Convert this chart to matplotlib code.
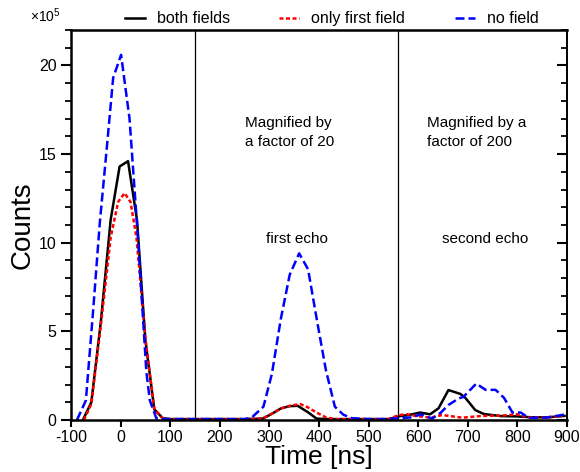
import matplotlib
matplotlib.use("Agg")
import matplotlib.pyplot as plt
from matplotlib.ticker import MultipleLocator

plt.rcParams['font.family'] = ['Liberation Sans', 'DejaVu Sans']
plt.rcParams['mathtext.fontset'] = 'custom'
plt.rcParams['mathtext.rm'] = 'Liberation Sans'
plt.rcParams['axes.unicode_minus'] = False

# counts in units of 1e5 (echo regions already magnified x20 / x200)
both_t = [-76, -59, -40, -20, -2, 15, 33, 50, 68, 85, 100, 150, 200, 250, 287, 305, 323, 341,
          357, 377, 395, 420, 480, 540, 564, 581, 604, 624, 641, 661, 685, 695, 715, 732, 766,
          800, 830, 860, 895]
both_y = [0, 1.0, 5.5, 11.3, 14.3, 14.6, 11.3, 4.5, 0.6, 0.1, 0.05, 0.05, 0.05, 0.05, 0.08, 0.35,
          0.65, 0.78, 0.8, 0.45, 0.08, 0.05, 0.05, 0.05, 0.22, 0.28, 0.42, 0.32, 0.66, 1.69, 1.47,
          1.25, 0.56, 0.34, 0.22, 0.2, 0.15, 0.15, 0.23]

first_t = [-74, -59, -40, -20, -5, 8, 20, 32, 50, 68, 85, 100, 150, 200, 250, 285, 305, 323, 341,
           362, 377, 395, 414, 432, 480, 540, 561, 578, 595, 625, 648, 670, 689, 729, 770, 800,
           820, 857, 891]
first_y = [0, 0.9, 5.3, 10.3, 12.3, 12.8, 12.3, 10.3, 4.6, 0.6, 0.1, 0.05, 0.05, 0.05, 0.05, 0.08,
           0.35, 0.65, 0.8, 0.9, 0.72, 0.42, 0.15, 0.05, 0.05, 0.05, 0.28, 0.32, 0.23, 0.13, 0.28,
           0.2, 0.13, 0.23, 0.25, 0.32, 0.15, 0.13, 0.23]

none_t = [-88, -70, -55, -42, -28, -15, 1, 18, 35, 52, 59, 72, 85, 150, 200, 250, 264, 288, 305,
          323, 341, 360, 378, 396, 414, 432, 449, 466, 500, 540, 561, 588, 605, 628, 645, 661,
          682, 691, 717, 736, 756, 773, 790, 807, 822, 857, 894]
none_y = [0, 1.1, 6.3, 11.1, 15.3, 19.3, 20.6, 17.0, 10.3, 2.7, 1.1, 0.1, 0.05, 0.05, 0.05, 0.05,
          0.13, 0.75, 2.6, 5.7, 8.2, 9.4, 8.5, 5.6, 2.8, 0.75, 0.3, 0.1, 0.05, 0.05, 0.1, 0.15,
          0.32, 0.08, 0.4, 0.85, 1.22, 1.3, 2.05, 1.7, 1.7, 1.25, 0.42, 0.42, 0.12, 0.13, 0.3]

region_bounds = [150, 560]

fig = plt.figure(figsize=(5.8, 4.72), dpi=100)
ax = fig.add_axes([0.1224, 0.1102, 0.8552, 0.8262])

l1, = ax.plot(both_t, both_y, color='black', lw=1.8, label='both fields')
l2, = ax.plot(first_t, first_y, color='red', lw=1.8, dashes=(1.6, 1.0), label='only first field')
l3, = ax.plot(none_t, none_y, color='blue', lw=1.8, dashes=(3.6, 1.6), label='no field')

for b in region_bounds:
    ax.axvline(b, color='black', lw=0.9, zorder=0)

ax.text(250, 16.2, 'Magnified by\na factor of 20', fontsize=11, va='center', ha='left',
        linespacing=1.45)
ax.text(355, 10.2, 'first echo', fontsize=11, ha='center', va='center')
ax.text(618, 16.2, 'Magnified by a\nfactor of 200', fontsize=11, va='center', ha='left',
        linespacing=1.45)
ax.text(735, 10.2, 'second echo', fontsize=11, ha='center', va='center')

ax.set_xlim(-100, 900)
ax.set_ylim(0, 22)
ax.xaxis.set_major_locator(MultipleLocator(100))
ax.yaxis.set_major_locator(MultipleLocator(5))
ax.yaxis.set_minor_locator(MultipleLocator(1))

for s in ['left', 'bottom', 'top']:
    ax.spines[s].set_linewidth(1.8)
ax.spines['right'].set_linewidth(1.4)

ax.tick_params(axis='x', which='major', direction='out', length=5, width=1.5, labelsize=11.5,
               top=False, pad=2)
ax.tick_params(axis='y', which='major', direction='out', length=7, width=1.5, labelsize=11.5)
ax.tick_params(axis='y', which='minor', direction='out', length=4, width=1.3)
ax.tick_params(axis='y', which='both', right=True)

# right side ticks point inward
for t in ax.yaxis.get_major_ticks() + ax.yaxis.get_minor_ticks():
    t.tick2line.set_marker(matplotlib.lines.TICKLEFT)

ax.set_xlabel('Time [ns]', fontsize=19, labelpad=0)
ax.set_ylabel('Counts', fontsize=20, labelpad=2)

ax.text(-0.083, 1.012, r'$\times10^5$', transform=ax.transAxes, fontsize=10, ha='left',
        va='bottom')

fig.legend(handles=[l1, l2, l3], loc='center', bbox_to_anchor=(0.5716, 0.96), ncol=3,
           frameon=False, fontsize=11.5, handlelength=1.25, columnspacing=3.1,
           handletextpad=0.75, borderaxespad=0)

fig.savefig('out.png', dpi=100)
